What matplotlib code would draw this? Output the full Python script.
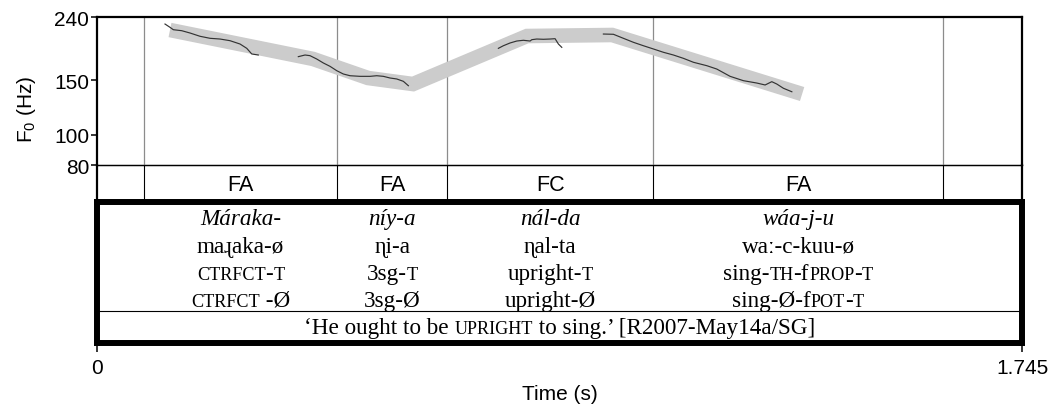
import re
import matplotlib
matplotlib.use('Agg')
import matplotlib.pyplot as plt
from matplotlib.ticker import NullLocator, FixedLocator, FixedFormatter
from matplotlib.transforms import IdentityTransform

# ---------------- data ----------------
t_max = 1.745
y_ticks = [80, 100, 150, 240]

# stylised (grey band) contour: time (s), F0 (Hz)
band_t = [0.1377, 0.4075, 0.5113, 0.5962, 0.8113, 0.9717, 1.3302]
band_hz = [217.9, 175.8, 152.6, 145.9, 208.4, 210.0, 135.5]

# measured F0 track pieces
seg1_t = [0.1283, 0.1377, 0.1440, 0.1598, 0.1755, 0.1943, 0.2132, 0.2321, 0.2509, 0.2698, 0.2825, 0.2919, 0.3043]
seg1_hz = [227.8, 222.3, 218.4, 216.8, 213.1, 208.0, 204.9, 203.8, 201.3, 196.4, 190.2, 182.4, 181.0]
seg2_t = [0.3798, 0.3925, 0.4019, 0.4145, 0.4270, 0.4396, 0.4523, 0.4647, 0.4774, 0.4962, 0.5151, 0.5277, 0.5402, 0.5528, 0.5655, 0.5779, 0.5874]
seg2_hz = [178.8, 181.0, 180.1, 175.7, 170.6, 166.4, 161.1, 157.2, 155.2, 154.5, 154.5, 155.2, 154.5, 152.6, 151.5, 148.9, 144.1]
seg3_t = [0.7572, 0.7666, 0.7792, 0.7919, 0.8043, 0.8170, 0.8202, 0.8296, 0.8421, 0.8547, 0.8642, 0.8704, 0.8768]
seg3_hz = [190.2, 193.9, 197.9, 200.8, 201.9, 200.8, 202.8, 203.8, 203.4, 203.8, 204.3, 196.4, 191.6]
seg4_t = [0.9553, 0.9742, 0.9930, 1.0119, 1.0308, 1.0496, 1.0685, 1.0874, 1.1062, 1.1251, 1.1504, 1.1692, 1.1943, 1.2194, 1.2447, 1.2604, 1.2730, 1.2825, 1.2949, 1.3108]
seg4_hz = [211.5, 211.1, 204.9, 198.9, 193.9, 189.3, 184.7, 181.0, 176.6, 171.5, 167.2, 163.1, 154.5, 149.6, 147.0, 144.9, 148.5, 145.9, 141.4, 137.8]

# interval boundaries (s) and tier labels
boundaries = [0.0887, 0.4528, 0.6604, 1.049, 1.596]
tier_labels = ['FA', 'FA', 'FC', 'FA']

# interlinear text ({...} = small caps)
row_orth = ['Máraka-', 'níy-a', 'nál-da', 'wáa-j-u']
row_phon = ['maɻaka-ø', 'ɳi-a', 'ɳal-ta', 'waː-c-kuu-ø']
row_gloss1 = ['{ctrfct}-{t}', '3sg-{t}', 'upright-{t}', 'sing-{th}-f{prop}-{t}']
row_gloss2 = ['{ctrfct} -Ø', '3sg-Ø', 'upright-Ø', 'sing-Ø-f{pot}-{t}']
translation = '‘He ought to be {upright} to sing.’ [R2007-May14a/SG]'

# ---------------- figure ----------------
W, H, DPI = 1061, 410, 100
SANS = ['Liberation Sans', 'DejaVu Sans']
SERIF = ['Liberation Serif', 'DejaVu Serif']
plt.rcParams['font.family'] = SANS
plt.rcParams['mathtext.fontset'] = 'custom'
plt.rcParams['mathtext.rm'] = 'Liberation Sans'

fig = plt.figure(figsize=(W / DPI, H / DPI), dpi=DPI)
fig.patch.set_facecolor('white')


def fr(x0, y0, x1, y1):
    return [x0 / W, 1 - y1 / H, (x1 - x0) / W, (y1 - y0) / H]


ax_tier = fig.add_axes(fr(97, 166, 1022, 202.5))
ax_tab = fig.add_axes(fr(97, 202.5, 1022, 343.5))
ax = fig.add_axes(fr(97, 18, 1022, 166))

# pitch panel
ax.set_facecolor('none')
ax.set_yscale('log')
ax.set_ylim(80, 240)
ax.set_xlim(0, t_max)
ax.yaxis.set_major_locator(FixedLocator(y_ticks))
ax.yaxis.set_major_formatter(FixedFormatter([str(v) for v in y_ticks]))
ax.yaxis.set_minor_locator(NullLocator())
ax.set_xticks([])
ax.tick_params(axis='y', direction='out', length=4.5, width=1.1, labelsize=15, pad=1)
for s in ['left', 'top', 'right']:
    ax.spines[s].set_linewidth(1.6)
ax.spines['bottom'].set_linewidth(0.9)
ax.spines['bottom'].set_zorder(5)
for b in boundaries:
    ax.axvline(b, color='#8c8c8c', lw=0.9, zorder=1)
ax.plot(band_t, band_hz, color='#cccccc', lw=10.5, solid_capstyle='butt',
        solid_joinstyle='miter', zorder=2)
for tt, hh in [(seg1_t, seg1_hz), (seg2_t, seg2_hz), (seg3_t, seg3_hz), (seg4_t, seg4_hz)]:
    ax.plot(tt, hh, color='#333333', lw=0.85, zorder=3)

fig.text(27 / W, 1 - 109 / H, r'F$_\mathregular{0}$ (Hz)', rotation=90,
         ha='center', va='center', fontsize=15)

# tier row
ax_tier.set_facecolor('none')
ax_tier.set_xlim(0, t_max)
ax_tier.set_ylim(0, 1)
ax_tier.set_xticks([])
ax_tier.set_yticks([])
ax_tier.spines['top'].set_linewidth(0.9)
ax_tier.spines['bottom'].set_visible(False)
for s in ['left', 'right']:
    ax_tier.spines[s].set_linewidth(1.6)
for b in boundaries:
    ax_tier.axvline(b, color='black', lw=0.8)
centers = [(boundaries[i] + boundaries[i + 1]) / 2 for i in range(len(boundaries) - 1)]
for c, lab in zip(centers, tier_labels):
    ax_tier.text(c, 0.47, lab, ha='center', va='center', fontsize=15.5)

# table
ax_tab.set_xlim(0, t_max)
ax_tab.set_ylim(0, 1)
ax_tab.set_yticks([])
ax_tab.set_facecolor('none')
for s in ax_tab.spines.values():
    s.set_linewidth(4.3)
ax_tab.xaxis.set_major_locator(FixedLocator([0, t_max]))
ax_tab.xaxis.set_major_formatter(FixedFormatter(['0', '1.745']))
ax_tab.tick_params(axis='x', direction='out', length=6.5, width=1.1, labelsize=15, pad=5)
ax_tab.axhline((343.5 - 312) / (343.5 - 202.5), color='black', lw=0.8)

fig.text(559.5 / W, 1 - 395 / H, 'Time (s)', ha='center', va='center', fontsize=15)

renderer = fig.canvas.get_renderer()


def text_width(s, **kw):
    t1 = fig.text(0, 0, '|' + s + '|', **kw)
    w1 = t1.get_window_extent(renderer).width
    t1.remove()
    t2 = fig.text(0, 0, '||', **kw)
    w2 = t2.get_window_extent(renderer).width
    t2.remove()
    return w1 - w2


def parse(s):
    runs = []
    for part in re.split(r'(\{[^}]*\})', s):
        if not part:
            continue
        if part.startswith('{'):
            runs.append((part[1:-1].upper(), True))
        else:
            runs.append((part, False))
    return runs


def draw_runs(xc, y_base_px, s, size, style='normal'):
    pieces = []
    for txt, sc in parse(s):
        kw = dict(fontsize=size * 0.78 if sc else size, family=SERIF, style=style)
        pieces.append((txt, kw))
    widths = [text_width(t, **kw) for t, kw in pieces]
    x = xc - sum(widths) / 2
    yd = H - y_base_px
    for (t, kw), w in zip(pieces, widths):
        fig.text(x, yd, t, ha='left', va='baseline', transform=IdentityTransform(), **kw)
        x += w


SERIF_SIZE = 16.7
xcs = [ax_tab.transData.transform((c, 0))[0] for c in centers]
rows = [(row_orth, 225, 'italic'), (row_phon, 253, 'normal'),
        (row_gloss1, 280, 'normal'), (row_gloss2, 307, 'normal')]
for texts, yb, style in rows:
    for xc, s in zip(xcs, texts):
        draw_runs(xc, yb, s, SERIF_SIZE, style)

xmid = ax_tab.transData.transform((t_max / 2, 0))[0]
draw_runs(xmid, 334, translation, SERIF_SIZE)

fig.savefig('out.png', dpi=DPI, facecolor='white')
